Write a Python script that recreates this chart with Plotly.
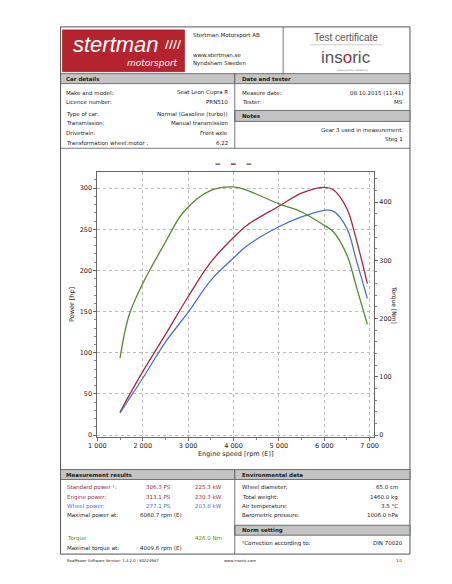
import plotly.graph_objects as go

W, H = 452, 584
OFF = 8  # page body margin in the browser

# dyno data
rpm = [1500, 2000, 2500, 3000, 3500, 4000, 4300, 5000, 5500, 6000, 6200, 6500, 6700, 6950]
engine_hp = [28, 77, 122, 168, 210, 240, 255, 278, 294, 301, 298, 275, 239, 184]
wheel_hp = [27, 69, 113, 149, 188, 215, 230, 253, 265, 273, 272, 251, 214, 166]
torque_rpm = [1500, 1700, 2000, 2500, 2900, 3500, 4000, 4300, 5000, 5500, 6000, 6200, 6500, 6700, 6950]
torque_nm = [132, 206, 260, 331, 383, 420, 426, 420, 397, 383, 360, 349, 309, 257, 190]

RED = "#a3283f"
BLUE = "#4a72c4"
GREEN = "#55892f"
GRAY_BAND = "#c4c4c4"
FONT = "DejaVu Sans"

FW, FH = W - 2 * OFF, H - 2 * OFF


def px(x):
    return (x - OFF) / FW


def py(y):
    return 1 - (y - OFF) / FH


fig = go.Figure()
fig.add_trace(go.Scatter(x=rpm, y=engine_hp, mode="lines", line=dict(color=RED, width=1.3, shape="spline")))
fig.add_trace(go.Scatter(x=rpm, y=wheel_hp, mode="lines", line=dict(color=BLUE, width=1.3, shape="spline")))
fig.add_trace(go.Scatter(x=torque_rpm, y=torque_nm, mode="lines", yaxis="y2",
                         line=dict(color=GREEN, width=1.3, shape="spline")))

shapes = []
annotations = []


def rect(x0, y0, x1, y1, fill=None, line="#555", lw=0.8):
    shapes.append(dict(type="rect", xref="paper", yref="paper", x0=px(x0), x1=px(x1), y0=py(y1), y1=py(y0),
                       fillcolor=fill if fill else "rgba(0,0,0,0)", line=dict(color=line, width=lw), layer="below"))


def hline(x0, x1, y, color="#555", lw=0.8):
    shapes.append(dict(type="line", xref="paper", yref="paper", x0=px(x0), x1=px(x1), y0=py(y), y1=py(y),
                       line=dict(color=color, width=lw)))


def vline(x, y0, y1, color="#555", lw=0.8):
    shapes.append(dict(type="line", xref="paper", yref="paper", x0=px(x), x1=px(x), y0=py(y0), y1=py(y1),
                       line=dict(color=color, width=lw)))


def text(x, y, s, size=5.5, color="#222", align="left", bold=False, fam=FONT):
    if bold:
        s = "<b>" + s + "</b>"
    annotations.append(dict(xref="paper", yref="paper", x=px(x), y=py(y), text=s, showarrow=False,
                            xanchor=align, yanchor="middle", font=dict(family=fam, size=size, color=color)))


# page frame
rect(53, 27, 414, 557, lw=1)
vline(283, 27, 74)
# logo
rect(55, 30, 181, 72, fill="#b5232e", line="#b5232e")
text(110, 45, "<i>stertman</i>", size=22, color="white", align="center", fam="Liberation Sans")
text(159, 45, "<b>////</b>", size=11, color="white", align="left")
text(176, 63, "<i>motorsport</i>", size=9, color="white", align="right")
text(188, 36, "Stertman Motorsport AB", size=5.5)
text(188, 55, "www.stertman.se", size=5.5)
text(188, 64, "Nyndsham Sweden", size=5.5)
text(348, 38, "Test certificate", size=10, color="#555", align="center", fam="Liberation Sans")
hline(311, 385, 45, color="#aaa", lw=0.6)
text(348, 58, "ins<span style='color:#b5232e'>o</span>ric", size=17, color="#555", align="center", fam="Liberation Sans")
text(355, 70.5, "sense precision measuring", size=2.3, color="#777", align="center")

# car details section
rect(53, 74, 233, 84, fill=GRAY_BAND)
rect(233, 74, 414, 84, fill=GRAY_BAND)
text(57, 79, "Car details", bold=True)
text(238, 79, "Date and tester", bold=True)
vline(233, 84, 149)
car_rows = [(93, "Make and model:", "Seat Leon Cupra R"), (102, "Licence number:", "PRN510"),
            (115, "Type of car:", "Normal (Gasoline (turbo))"), (124, "Transmission:", "Manual transmission"),
            (134, "Drivetrain:", "Front axle"), (144, "Transformation wheel:motor :", "6.22")]
for y, a, b in car_rows:
    text(57, y, a)
    text(228, y, b, align="right")
text(238, 93, "Measure date:")
text(409, 93, "08.10.2015 (11:41)", align="right")
text(238, 102, "Tester:")
text(409, 102, "MS", align="right")
rect(233, 111, 414, 122, fill=GRAY_BAND)
text(238, 117, "Notes", bold=True)
text(409, 131, "Gear 3 used in measurement.", align="right")
text(409, 140, "Steg 1", align="right")
hline(53, 414, 149)

# legend dashes
for x0, c in [(213, BLUE), (229, RED), (245, GREEN)]:
    hline(x0, x0 + 5, 165, color=c, lw=1.5)

# bottom tables
rect(53, 472, 233, 482, fill=GRAY_BAND)
rect(233, 472, 414, 482, fill=GRAY_BAND)
vline(233, 482, 557)
text(57, 477, "Measurement results", bold=True)
text(238, 477, "Environmental data", bold=True)
meas = [(490, "Standard power ¹:", "306.3 PS", "225.3 kW", RED), (500, "Engine power:", "313.1 PS", "230.3 kW", RED),
        (509, "Wheel power:", "277.1 PS", "203.8 kW", BLUE)]
for y, a, b, c, col in meas:
    text(58, y, a, color=col)
    text(169, y, b, color=col, align="right")
    text(222, y, c, color=col, align="right")
text(58, 518, "Maximal power at:")
text(181, 518, "6060.7 rpm (E)", align="right")
text(58, 541, "Torque", color=GREEN)
text(222, 541, "426.0 Nm", color=GREEN, align="right")
text(58, 551, "Maximal torque at:")
text(181, 551, "4009.6 rpm (E)", align="right")
env = [(490, "Wheel diameter:", "65.0 cm"), (500, "Total weight:", "1460.0 kg"),
       (509, "Air temperature:", "3.5 °C"), (518, "Barometric pressure:", "1006.0 hPa")]
for y, a, b in env:
    text(238, y, a)
    text(404, y, b, align="right")
rect(233, 528, 414, 538, fill=GRAY_BAND)
text(238, 533, "Norm setting", bold=True)
text(238, 546, "¹Correction according to:")
text(409, 546, "DIN 70020", align="right")
text(58, 563, "RealPower Software Version: 1.4.2.0 / 60224987", size=3.8)
text(238, 563, "www.insoric.com", size=3.8, align="center")
text(409, 563, "1/1", size=3.8, align="right")

# torque axis title reading downward
text(397, 306, "Torque [Nm]", size=6, align="center")
annotations[-1]["textangle"] = 90

axis_common = dict(showline=True, linecolor="#666", linewidth=0.8, ticks="outside", ticklen=3,
                   tickcolor="#666", tickfont=dict(family=FONT, size=6.5, color="#222"),
                   minor=dict(ticks="outside", ticklen=2, tickcolor="#888", showgrid=False))
fig.update_layout(
    width=FW, height=FH, margin=dict(l=0, r=0, t=0, b=0),
    paper_bgcolor="white", plot_bgcolor="white", showlegend=False,
    font=dict(family=FONT, size=6, color="#222"),
    xaxis=dict(domain=[px(91), px(377)], range=[1000, 7100], tickvals=[1000, 2000, 3000, 4000, 5000, 6000, 7000],
               ticktext=["1 000", "2 000", "3 000", "4 000", "5 000", "6 000", "7 000"],
               showgrid=True, gridcolor="#bbb", griddash="dot", zeroline=False, mirror=True,
               title=dict(text="Engine speed [rpm (E)]", font=dict(size=6.5), standoff=2), **axis_common),
    yaxis=dict(domain=[py(439), py(173)], range=[-2, 319.4], dtick=50, showgrid=True, gridcolor="#bbb",
               griddash="dot", zeroline=False, mirror=True,
               title=dict(text="Power [hp]", font=dict(size=6.5), standoff=4), **axis_common),
    yaxis2=dict(overlaying="y", side="right", range=[-2.9, 451.4], dtick=100, showgrid=False, zeroline=False,
                **axis_common),
    shapes=shapes, annotations=annotations,
)
fig.write_html("out.html")
